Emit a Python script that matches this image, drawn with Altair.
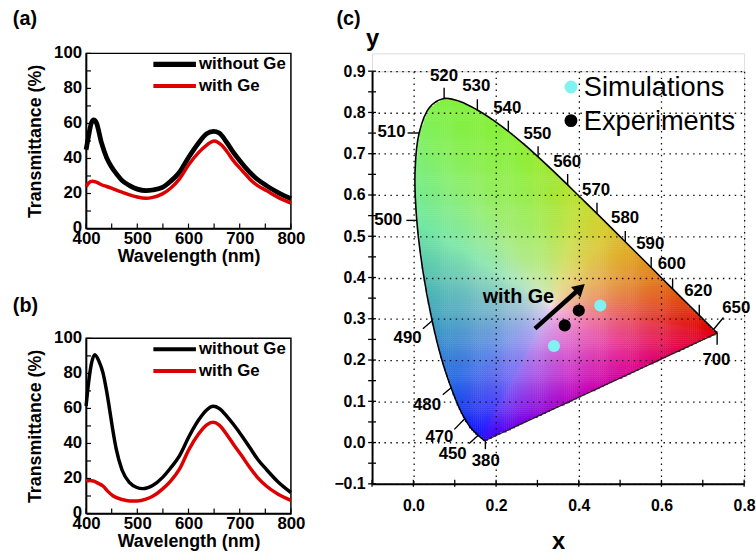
import altair as alt
import numpy as np
import pandas as pd

alt.data_transformers.disable_max_rows()

FONT = "Liberation Sans"

# ---------------- transmittance spectra ----------------
series_names = ["without Ge", "with Ge"]
series_colors = ["#000000", "#dd0000"]

a_bare_wl = [400, 405, 410, 415, 420, 430, 440, 450, 460, 470, 485, 500, 517, 530, 549, 565, 582,
             601, 620, 635, 649, 660, 675, 688, 705, 720, 735, 752, 775, 800]
a_bare_t = [45, 53, 60, 62, 60.5, 49, 40.5, 35, 31, 27.5, 24.5, 22.5, 21.7, 22, 23.5, 27, 32,
            41, 49, 54, 55.5, 54.5, 49, 43.3, 37, 32, 28, 24.5, 20.5, 17]
a_ge_wl = [400, 405, 412, 420, 430, 440, 453, 470, 485, 500, 517, 530, 549, 565, 582, 601, 620,
           635, 650, 665, 675, 688, 705, 720, 735, 752, 775, 800]
a_ge_t = [24, 26, 27, 26.5, 25, 24, 22.6, 20.8, 19.2, 18, 17.3, 17.8, 19.8, 23, 28.2, 36.7, 43.5,
          47.5, 50, 47.5, 44, 38.6, 33, 28.2, 24.5, 21.7, 17.8, 14.5]

b_bare_wl = [400, 405, 410, 417, 425, 433, 440, 446, 452, 459, 470, 485, 498, 511, 530, 549, 565,
             582, 601, 620, 635, 648, 660, 675, 688, 705, 720, 735, 752, 775, 800]
b_bare_t = [61.4, 75, 85, 90.7, 87, 80.3, 70, 59.3, 48, 36.6, 25, 17.6, 15, 14.2, 16, 20.5, 26,
            32.8, 44, 53.5, 59, 61.2, 60, 55.5, 50.8, 44, 37.5, 31, 25.2, 18, 12]
b_ge_wl = [400, 407, 414, 422, 433, 443, 453, 470, 485, 500, 517, 530, 549, 565, 582, 601, 620,
           635, 648, 660, 675, 688, 705, 720, 735, 752, 775, 800]
b_ge_t = [18.6, 18.8, 18.6, 17.5, 15.7, 12.5, 10, 8, 7.2, 7.2, 8.2, 9.8, 13.9, 18.5, 25.2, 36.6,
          45.5, 50.5, 52.1, 50.5, 45, 39.4, 32.5, 26.1, 20.5, 15.7, 11, 7.5]

wl_labels = [400, 500, 600, 700, 800]
wl_ticks = [400, 450, 500, 550, 600, 650, 700, 750, 800]
t_labels = [0, 20, 40, 60, 80, 100]
t_ticks = [0, 10, 20, 30, 40, 50, 60, 70, 80, 90, 100]

# ---------------- CIE 1931 chromaticity ----------------
locus_nm = list(range(380, 705, 5))
locus_x = [0.1741, 0.1740, 0.1738, 0.1736, 0.1733, 0.1730, 0.1726, 0.1721, 0.1714, 0.1703,
           0.1689, 0.1669, 0.1644, 0.1611, 0.1566, 0.1510, 0.1440, 0.1355, 0.1241, 0.1096,
           0.0913, 0.0687, 0.0454, 0.0235, 0.0082, 0.0039, 0.0139, 0.0389, 0.0743, 0.1142,
           0.1547, 0.1929, 0.2296, 0.2658, 0.3016, 0.3373, 0.3731, 0.4087, 0.4441, 0.4788,
           0.5125, 0.5448, 0.5752, 0.6029, 0.6270, 0.6482, 0.6658, 0.6801, 0.6915, 0.7006,
           0.7079, 0.7140, 0.7190, 0.7230, 0.7260, 0.7283, 0.7300, 0.7311, 0.7320, 0.7327,
           0.7334, 0.7340, 0.7344, 0.7346, 0.7347]
locus_y = [0.0050, 0.0050, 0.0049, 0.0049, 0.0048, 0.0048, 0.0048, 0.0048, 0.0051, 0.0058,
           0.0069, 0.0086, 0.0109, 0.0138, 0.0177, 0.0227, 0.0297, 0.0399, 0.0578, 0.0868,
           0.1327, 0.2007, 0.2950, 0.4127, 0.5384, 0.6548, 0.7502, 0.8120, 0.8338, 0.8262,
           0.8059, 0.7816, 0.7543, 0.7243, 0.6923, 0.6589, 0.6245, 0.5896, 0.5547, 0.5202,
           0.4866, 0.4544, 0.4242, 0.3965, 0.3725, 0.3514, 0.3340, 0.3197, 0.3083, 0.2993,
           0.2920, 0.2859, 0.2809, 0.2770, 0.2740, 0.2717, 0.2700, 0.2689, 0.2680, 0.2673,
           0.2666, 0.2660, 0.2656, 0.2654, 0.2653]

# wavelength markers on the locus: tick end and label centre
mark_nm = [380, 450, 470, 480, 490, 500, 510, 520, 530, 540, 550, 560, 570, 580, 590, 600, 620, 650, 700]
mark_x1 = [0.1741, 0.135, 0.099, 0.071, 0.023, -0.017, -0.014, 0.0743, 0.1547, 0.2296, 0.3016,
           0.3731, 0.4441, 0.5125, 0.5752, 0.6270, 0.6915, 0.750, 0.7347]
mark_y1 = [-0.016, -0.002, 0.032, 0.116, 0.276, 0.5384, 0.7502, 0.860, 0.832, 0.780, 0.718,
           0.651, 0.581, 0.513, 0.450, 0.398, 0.334, 0.303, 0.237]
label_x = [0.175, 0.095, 0.063, 0.033, -0.014, -0.061, -0.053, 0.074, 0.152, 0.227, 0.300,
           0.372, 0.442, 0.512, 0.573, 0.625, 0.689, 0.781, 0.733]
label_y = [-0.044, -0.028, 0.014, 0.092, 0.254, 0.540, 0.752, 0.889, 0.863, 0.811, 0.747,
           0.681, 0.613, 0.545, 0.481, 0.432, 0.366, 0.326, 0.200]

# colour shading of the diagram: boundary hues blended towards a near-white centre
white_xy = (0.333, 0.333)
white_rgb = "#f6e2ea"
hue_nm = [380, 450, 470, 480, 490, 500, 510, 520, 540, 555, 565, 575, 585, 595, 605, 620, 650, 700]
hue_rgb = ["#3000f8", "#1010ff", "#1830f0", "#2060e8", "#40a0c0", "#70e8a0", "#80f060", "#80f040",
           "#88f038", "#a0e830", "#c0e030", "#d8c828", "#e0a020", "#e07818", "#e05010", "#e02008",
           "#e00000", "#e00010"]
purple_frac = [0.33, 0.6, 0.87]          # position along the line of purples, from 700 nm
purple_rgb = ["#e00088", "#c000c0", "#7000e8"]

sim_x = [0.340, 0.452]
sim_y = [0.234, 0.332]
exp_x = [0.366, 0.400]
exp_y = [0.284, 0.320]
arrow_x = [0.294, 0.400]
arrow_y = [0.276, 0.371]

cie_x_labels = [0.0, 0.2, 0.4, 0.6, 0.8]
cie_x_ticks = [-0.1, 0.0, 0.1, 0.2, 0.3, 0.4, 0.5, 0.6, 0.7, 0.8]
cie_y_labels = [-0.1, 0.0, 0.1, 0.2, 0.3, 0.4, 0.5, 0.6, 0.7, 0.8, 0.9]
cie_y_ticks = [-0.1, -0.05, 0.0, 0.05, 0.1, 0.15, 0.2, 0.25, 0.3, 0.35, 0.4, 0.45, 0.5, 0.55,
               0.6, 0.65, 0.7, 0.75, 0.8, 0.85, 0.9]

PW, PH = 207, 177      # spectrum panels
CW, CH = 376, 417      # chromaticity panel


def axis_style(**kw):
    base = dict(labelFont=FONT, labelFontWeight="bold", labelColor="black",
                titleFont=FONT, titleFontWeight="bold", titleColor="black",
                domainColor="black", domainWidth=1.5, ticks=False, grid=False,
                labelFlush=False, labelOverlap=False)
    base.update(kw)
    return alt.Axis(**base)


def spectrum_panel(spectra, tag, tag_y, widths):
    df = pd.concat([pd.DataFrame({"wl": w, "T": t, "series": s})
                    for (w, t), s in zip(spectra, series_names)])
    x_enc = alt.X("wl:Q", scale=alt.Scale(domain=[400, 800], nice=False, zero=False),
                  axis=axis_style(values=wl_labels, format="d", title="Wavelength (nm)",
                                  labelFontSize=17, labelPadding=2, titleFontSize=18,
                                  titlePadding=1))
    y_enc = alt.Y("T:Q", scale=alt.Scale(domain=[0, 100], nice=False),
                  axis=axis_style(values=t_labels, labels=False, title="Transmittance (%)",
                                  titleFontSize=18, titlePadding=42))
    layers = []
    for name, color, w in zip(series_names, series_colors, widths):
        layers.append(
            alt.Chart(df).transform_filter(alt.datum.series == name)
            .mark_line(color=color, strokeWidth=w, interpolate="monotone")
            .encode(x=x_enc, y=y_enc)
        )
    # inward ticks
    layers.append(alt.Chart(pd.DataFrame({"wl": wl_ticks})).mark_rule(color="black", strokeWidth=1.2)
                  .encode(x="wl:Q", y=alt.value(PH), y2=alt.value(PH - 5)))
    layers.append(alt.Chart(pd.DataFrame({"T": t_ticks})).mark_rule(color="black", strokeWidth=1.2)
                  .encode(y="T:Q", x=alt.value(0), x2=alt.value(5)))
    # y tick labels
    layers.append(alt.Chart(pd.DataFrame({"T": t_labels})).mark_text(
        align="right", baseline="middle", font=FONT, fontSize=17, fontWeight="bold", color="black")
        .encode(y="T:Q", x=alt.value(-4), text="T:Q"))
    # legend
    leg = pd.DataFrame({"series": series_names})
    for i, (name, color, w) in enumerate(zip(series_names, series_colors, widths)):
        row = alt.Chart(leg).transform_filter(alt.datum.series == name)
        layers.append(row.mark_rule(color=color, strokeWidth=w + 0.5)
                      .encode(x=alt.value(68), x2=alt.value(111), y=alt.value(11 + 22 * i)))
        layers.append(row.mark_text(align="left", baseline="middle", font=FONT, fontSize=17,
                                    fontWeight="bold", color="black")
                      .encode(text="series:N", x=alt.value(114), y=alt.value(11 + 22 * i)))
    layers.append(alt.Chart(pd.DataFrame({"tag": [tag]}))
                  .mark_text(align="left", baseline="top", font=FONT, fontSize=20,
                             fontWeight="bold", color="black")
                  .encode(text="tag:N", x=alt.value(-74), y=alt.value(tag_y)))
    return alt.layer(*layers).properties(
        width=PW, height=PH, view=alt.ViewBackground(stroke="black", strokeWidth=1.5))


panel_a = spectrum_panel([(a_bare_wl, a_bare_t), (a_ge_wl, a_ge_t)], "(a)", -45, [4.8, 3.5])
panel_b = spectrum_panel([(b_bare_wl, b_bare_t), (b_ge_wl, b_ge_t)], "(b)", -43, [3.5, 3.5])


# ---- colour fill of the chromaticity diagram ----
def inside_polygon(px, py, vx, vy):
    inside = np.zeros(px.shape, dtype=bool)
    n = len(vx)
    j = n - 1
    for i in range(n):
        xi, yi, xj, yj = vx[i], vy[i], vx[j], vy[j]
        if yi != yj:
            cross = ((yi > py) != (yj > py)) & (px < (xj - xi) * (py - yi) / (yj - yi) + xi)
            inside ^= cross
        j = i
    return inside


def hex_rgb(h):
    return np.array([int(h[k:k + 2], 16) for k in (1, 3, 5)], dtype=float)


def to_uv(x, y):
    d = -2 * x + 12 * y + 3
    return 4 * x / d, 9 * y / d


def shade_cells(px, py):
    bx = np.array(locus_x + [locus_x[0]])
    by = np.array(locus_y + [locus_y[0]])
    s = np.concatenate([[0.0], np.cumsum(np.hypot(np.diff(bx), np.diff(by)))])
    s700, s_end = s[len(locus_x) - 1], s[-1]
    anchor_s = ([s[locus_nm.index(n)] for n in hue_nm]
                + [s700 + f * (s_end - s700) for f in purple_frac] + [s_end])
    anchor_c = np.array([hex_rgb(c) for c in hue_rgb + purple_rgb + [hue_rgb[0]]])
    ss = np.linspace(0.0, s_end, 4000)
    sx, sy = np.interp(ss, s, bx), np.interp(ss, s, by)
    sc = np.stack([np.interp(ss, anchor_s, anchor_c[:, k]) for k in range(3)], axis=-1)
    wx, wy = white_xy
    ang = np.arctan2(sy - wy, sx - wx)
    order = np.argsort(ang)
    ang, sx, sy, sc = ang[order], sx[order], sy[order], sc[order]
    pa = np.arctan2(py - wy, px - wx)
    ex = np.interp(pa, ang, sx, period=2 * np.pi)
    ey = np.interp(pa, ang, sy, period=2 * np.pi)
    ec = np.stack([np.interp(pa, ang, sc[:, k], period=2 * np.pi) for k in range(3)], axis=-1)
    # saturation grows with the distance from the centre, measured in u'v'
    wu, wv = to_uv(wx, wy)
    pu, pv = to_uv(px, py)
    eu, ev = to_uv(ex, ey)
    t = np.clip(np.hypot(pu - wu, pv - wv) / np.hypot(eu - wu, ev - wv), 0, 1) ** 0.55
    col = hex_rgb(white_rgb) + (ec - hex_rgb(white_rgb)) * t[:, None]
    col = np.clip(np.round(col), 0, 255).astype(int)
    return ["#%02x%02x%02x" % tuple(c) for c in col]


step = 0.005
cx, cy = np.meshgrid(np.arange(0.0, 0.75, step) + step / 2, np.arange(0.0, 0.85, step) + step / 2)
cx, cy = cx.ravel(), cy.ravel()
keep = inside_polygon(cx, cy, np.array(locus_x), np.array(locus_y))
cx, cy = cx[keep], cy[keep]
fill_df = pd.DataFrame({"x0": cx - step * 0.6, "x1": cx + step * 0.6,
                        "y0": cy - step * 0.6, "y1": cy + step * 0.6,
                        "rgb": shade_cells(cx, cy)})

cx_enc = alt.X("x0:Q", scale=alt.Scale(domain=[-0.1, 0.8], nice=False, zero=False),
               axis=axis_style(values=cie_x_labels, format=".1f", title="x", labelFontSize=16,
                               labelPadding=14, titleFontSize=24, titlePadding=16, grid=True,
                               gridDash=[1.5, 4.5], gridColor="#111111", gridWidth=1.3,
                               domainWidth=2, zindex=1))
cy_enc = alt.Y("y0:Q", scale=alt.Scale(domain=[-0.1, 0.9], nice=False, zero=False),
               axis=axis_style(values=cie_y_labels, format=".1f", title="y", labelFontSize=16,
                               labelPadding=7, titleFontSize=24, titleAngle=0, titleX=0,
                               titleY=-33, titleAlign="center", titleBaseline="middle",
                               grid=True, gridDash=[1.5, 4.5], gridColor="#111111",
                               gridWidth=1.3, domainWidth=2, zindex=1))

fill = alt.Chart(fill_df).mark_rect().encode(
    x=cx_enc, x2="x1:Q", y=cy_enc, y2="y1:Q", color=alt.Color("rgb:N", scale=None))

# spectral locus (smoothed) and the straight line of purples
locus_df = pd.DataFrame({"x0": locus_x, "y0": locus_y, "i": list(range(len(locus_x)))})
locus_line = alt.Chart(locus_df).mark_line(
    color="black", strokeWidth=1.6, interpolate="catmull-rom").encode(
    x="x0:Q", y="y0:Q", order="i:Q")
purple_df = pd.DataFrame({"x0": [locus_x[-1], locus_x[0]], "y0": [locus_y[-1], locus_y[0]],
                          "i": [0, 1]})
purple_line = alt.Chart(purple_df).mark_line(color="#202020", strokeWidth=1.3).encode(
    x="x0:Q", y="y0:Q", order="i:Q")

marks_df = pd.DataFrame({
    "nm": mark_nm,
    "x0": [locus_x[locus_nm.index(n)] for n in mark_nm],
    "y0": [locus_y[locus_nm.index(n)] for n in mark_nm],
    "x1": mark_x1, "y1": mark_y1,
})
wl_ticks_c = alt.Chart(marks_df).mark_rule(color="black", strokeWidth=1.4).encode(
    x="x0:Q", y="y0:Q", x2="x1:Q", y2="y1:Q")
wl_text = alt.Chart(pd.DataFrame({"nm": mark_nm, "x0": label_x, "y0": label_y})).mark_text(
    font=FONT, fontSize=17, fontWeight="bold", color="black", align="center", baseline="middle"
).encode(x="x0:Q", y="y0:Q", text="nm:N")

x_tick_c = alt.Chart(pd.DataFrame({"x0": cie_x_ticks})).mark_rule(color="black", strokeWidth=1.3).encode(
    x="x0:Q", y=alt.value(CH - 4), y2=alt.value(CH + 3))
y_tick_c = alt.Chart(pd.DataFrame({"y0": cie_y_ticks})).mark_rule(color="black", strokeWidth=1.3).encode(
    y="y0:Q", x=alt.value(-4), x2=alt.value(4))

sim_pts = alt.Chart(pd.DataFrame({"x0": sim_x, "y0": sim_y})).mark_circle(
    size=150, color="#80f2f2", opacity=1).encode(x="x0:Q", y="y0:Q")
exp_pts = alt.Chart(pd.DataFrame({"x0": exp_x, "y0": exp_y})).mark_circle(
    size=150, color="black", opacity=1).encode(x="x0:Q", y="y0:Q")

arrow_df = pd.DataFrame({"x0": arrow_x, "y0": arrow_y, "i": [0, 1]})
arrow_line = alt.Chart(arrow_df).mark_line(color="black", strokeWidth=4.5).encode(
    x="x0:Q", y="y0:Q", order="i:Q")
arrow_head = alt.Chart(arrow_df.iloc[[1]]).mark_point(
    shape="triangle", filled=True, color="black", size=200, angle=48, opacity=1).encode(
    x="x0:Q", y="y0:Q")
arrow_text = alt.Chart(pd.DataFrame({"x0": [0.254], "y0": [0.352], "t": ["with Ge"]})).mark_text(
    font=FONT, fontSize=20, fontWeight="bold", color="black", align="center", baseline="middle"
).encode(x="x0:Q", y="y0:Q", text="t:N")

legend_names = ["Simulations", "Experiments"]
legend_colors = ["#80f2f2", "#000000"]
legend_layers = []
leg_c = pd.DataFrame({"name": legend_names})
for i, (name, color) in enumerate(zip(legend_names, legend_colors)):
    row = alt.Chart(leg_c).transform_filter(alt.datum.name == name)
    legend_layers.append(row.mark_circle(size=170, color=color, opacity=1)
                         .encode(x=alt.value(201), y=alt.value(16 + 34 * i)))
    legend_layers.append(row.mark_text(align="left", baseline="middle", font=FONT, fontSize=27.5,
                                       color="black")
                         .encode(text="name:N", x=alt.value(214), y=alt.value(17 + 34 * i)))

tag_c = alt.Chart(pd.DataFrame({"tag": ["(c)"]})).mark_text(
    align="left", baseline="top", font=FONT, fontSize=20, fontWeight="bold", color="black"
).encode(text="tag:N", x=alt.value(-36), y=alt.value(-63))

panel_c = alt.layer(fill, locus_line, purple_line, wl_ticks_c, wl_text, x_tick_c, y_tick_c,
                    arrow_line, arrow_head, arrow_text, sim_pts, exp_pts, *legend_layers,
                    tag_c).properties(width=CW, height=CH)

# empty strip that drops the chromaticity panel below the spectrum panels' top edge
spacer = alt.Chart(pd.DataFrame({"s": [""]})).mark_text().encode(
    text="s:N", x=alt.value(0), y=alt.value(0)).properties(width=CW, height=18)

left = alt.vconcat(panel_a, panel_b, spacing=111, bounds="flush")
right = alt.vconcat(spacer, panel_c, spacing=0, bounds="flush")
chart = alt.hconcat(left, right, spacing=27).properties(
    padding={"left": 12, "top": 5, "right": 0, "bottom": 0}
).configure_view(stroke=None).configure(background="white")

chart.save("out.html", embed_options={"renderer": "svg", "actions": False})
